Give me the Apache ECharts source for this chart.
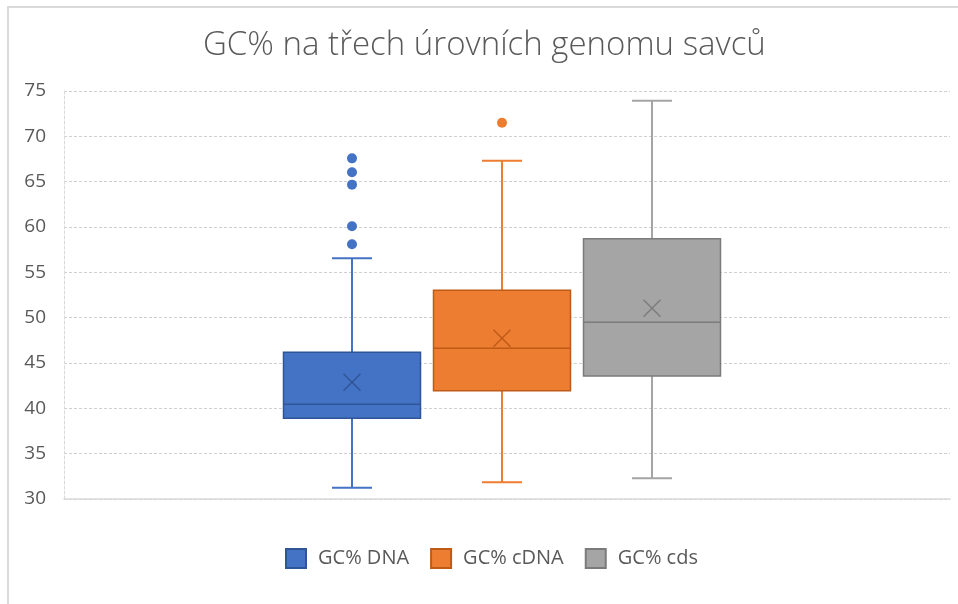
<!DOCTYPE html>
<html>
<head>
<meta charset="utf-8">
<script src="https://cdn.jsdelivr.net/npm/echarts@6/dist/echarts.min.js"></script>
<style>
  html, body { margin: 0; padding: 0; background: #fff; }
  #graph { width: 958px; height: 604px; }
</style>
</head>
<body>
<div id="graph"></div>
<script>
const chartDom = document.getElementById('graph')
const myChart = echarts.init(chartDom)

// one (unnamed) category, three series
const categories = ['']
const seriesNames = ['GC% DNA', 'GC% cDNA', 'GC% cds']

// [min, Q1, median, Q3, max]
const dnaBox = [31.25, 38.9, 40.44, 46.18, 56.55]
const cdnaBox = [31.84, 41.95, 46.62, 53.02, 67.31]
const cdsBox = [32.28, 43.57, 49.49, 58.71, 73.93]

const dnaMean = 42.87
const cdnaMean = 47.72
const cdsMean = 51.03

const dnaOutliers = [67.57, 66.03, 64.67, 60.08, 58.09]
const cdnaOutliers = [71.5]
const cdsOutliers = []

const yTicks = [30, 35, 40, 45, 50, 55, 60, 65, 70, 75]

const boxes = [dnaBox, cdnaBox, cdsBox]
const means = [dnaMean, cdnaMean, cdsMean]
const outliers = [dnaOutliers, cdnaOutliers, cdsOutliers]

const colors = [
    { fill: '#4472C4', dark: '#2F5597' },
    { fill: '#ED7D31', dark: '#BE5B17' },
    { fill: '#A5A5A5', dark: '#7B7B7B' }
]

const FONT = "'Open Sans', 'Noto Sans', sans-serif"
const TEXT_COLOR = '#595959'

// box layout inside the category band (px)
const BOX_STEP = 150
const BOX_SHIFT = -5
const BOX_W = 137
const CAP_W = 40
const MEAN_SIZE = 17

function offsetOf(k) {
    return BOX_SHIFT + (k - 1) * BOX_STEP
}

function boxRenderer(k) {
    const c = colors[k]
    return function (params, api) {
        const cx = api.coord([api.value(0), 0])[0] + offsetOf(k)
        const py = d => api.coord([api.value(0), api.value(d)])[1]
        const yMin = py(1), yQ1 = py(2), yMed = py(3), yQ3 = py(4), yMax = py(5), yMean = py(6)
        const hw = BOX_W / 2, cw = CAP_W / 2, m = MEAN_SIZE / 2
        const whisker = { stroke: c.fill, lineWidth: 2 }
        const dark = { stroke: c.dark, lineWidth: 1.5 }
        return {
            type: 'group',
            children: [
                { type: 'line', shape: { x1: cx, y1: yQ3, x2: cx, y2: yMax }, style: whisker },
                { type: 'line', shape: { x1: cx, y1: yQ1, x2: cx, y2: yMin }, style: whisker },
                { type: 'line', shape: { x1: cx - cw, y1: yMax, x2: cx + cw, y2: yMax }, style: whisker },
                { type: 'line', shape: { x1: cx - cw, y1: yMin, x2: cx + cw, y2: yMin }, style: whisker },
                {
                    type: 'rect',
                    shape: { x: cx - hw, y: yQ3, width: BOX_W, height: yQ1 - yQ3 },
                    style: { fill: c.fill, stroke: c.dark, lineWidth: 1.5 }
                },
                { type: 'line', shape: { x1: cx - hw, y1: yMed, x2: cx + hw, y2: yMed }, style: dark },
                { type: 'line', shape: { x1: cx - m, y1: yMean - m, x2: cx + m, y2: yMean + m }, style: dark },
                { type: 'line', shape: { x1: cx - m, y1: yMean + m, x2: cx + m, y2: yMean - m }, style: dark }
            ]
        }
    }
}

const series = []
seriesNames.forEach(function (name, k) {
    series.push({
        name: name,
        type: 'custom',
        renderItem: boxRenderer(k),
        itemStyle: { color: colors[k].fill, borderColor: colors[k].dark, borderWidth: 1 },
        encode: { x: 0, y: [1, 2, 3, 4, 5, 6] },
        data: [[0].concat(boxes[k], [means[k]])],
        z: 2
    })
    series.push({
        name: name,
        type: 'scatter',
        symbol: 'circle',
        symbolSize: 10,
        symbolOffset: [offsetOf(k), 0],
        itemStyle: { color: colors[k].fill, opacity: 1 },
        data: outliers[k].map(v => [0, v]),
        z: 3
    })
})

const option = {
    animation: false,
    textStyle: { fontFamily: FONT },
    title: {
        text: 'GC% na třech úrovních genomu savců',
        left: 198,
        top: 24,
        padding: [5, 5, 5, 5],
        textStyle: { fontFamily: FONT, fontSize: 33, fontWeight: 300, color: TEXT_COLOR }
    },
    graphic: [
        {
            type: 'rect',
            silent: true,
            shape: { x: 8, y: 7, width: 1000, height: 700 },
            style: { fill: null, stroke: '#D9D9D9', lineWidth: 2 }
        }
    ],
    legend: {
        data: seriesNames,
        bottom: 30,
        left: 280,
        icon: 'rect',
        itemWidth: 20,
        itemHeight: 19,
        itemGap: 21,
        textStyle: { fontFamily: FONT, fontSize: 20, color: TEXT_COLOR, padding: [0, 0, 0, 7] }
    },
    grid: { left: 64, right: 8, top: 91, bottom: 105, containLabel: false },
    xAxis: {
        type: 'category',
        data: categories,
        axisLine: { lineStyle: { color: '#D9D9D9', width: 1.5 } },
        axisTick: { show: false },
        axisLabel: { show: false },
        splitLine: { show: false }
    },
    yAxis: {
        type: 'value',
        min: yTicks[0],
        max: yTicks[yTicks.length - 1],
        interval: 5,
        axisLine: { show: true, lineStyle: { color: '#D9D9D9', type: [3, 2] } },
        axisTick: { show: false },
        axisLabel: { fontFamily: FONT, fontSize: 19, color: TEXT_COLOR, margin: 18 },
        splitLine: { lineStyle: { color: '#D0D0D0', width: 1.2, type: [3, 2] } }
    },
    tooltip: { show: false },
    series: series
}

option && myChart.setOption(option)
</script>
</body>
</html>
